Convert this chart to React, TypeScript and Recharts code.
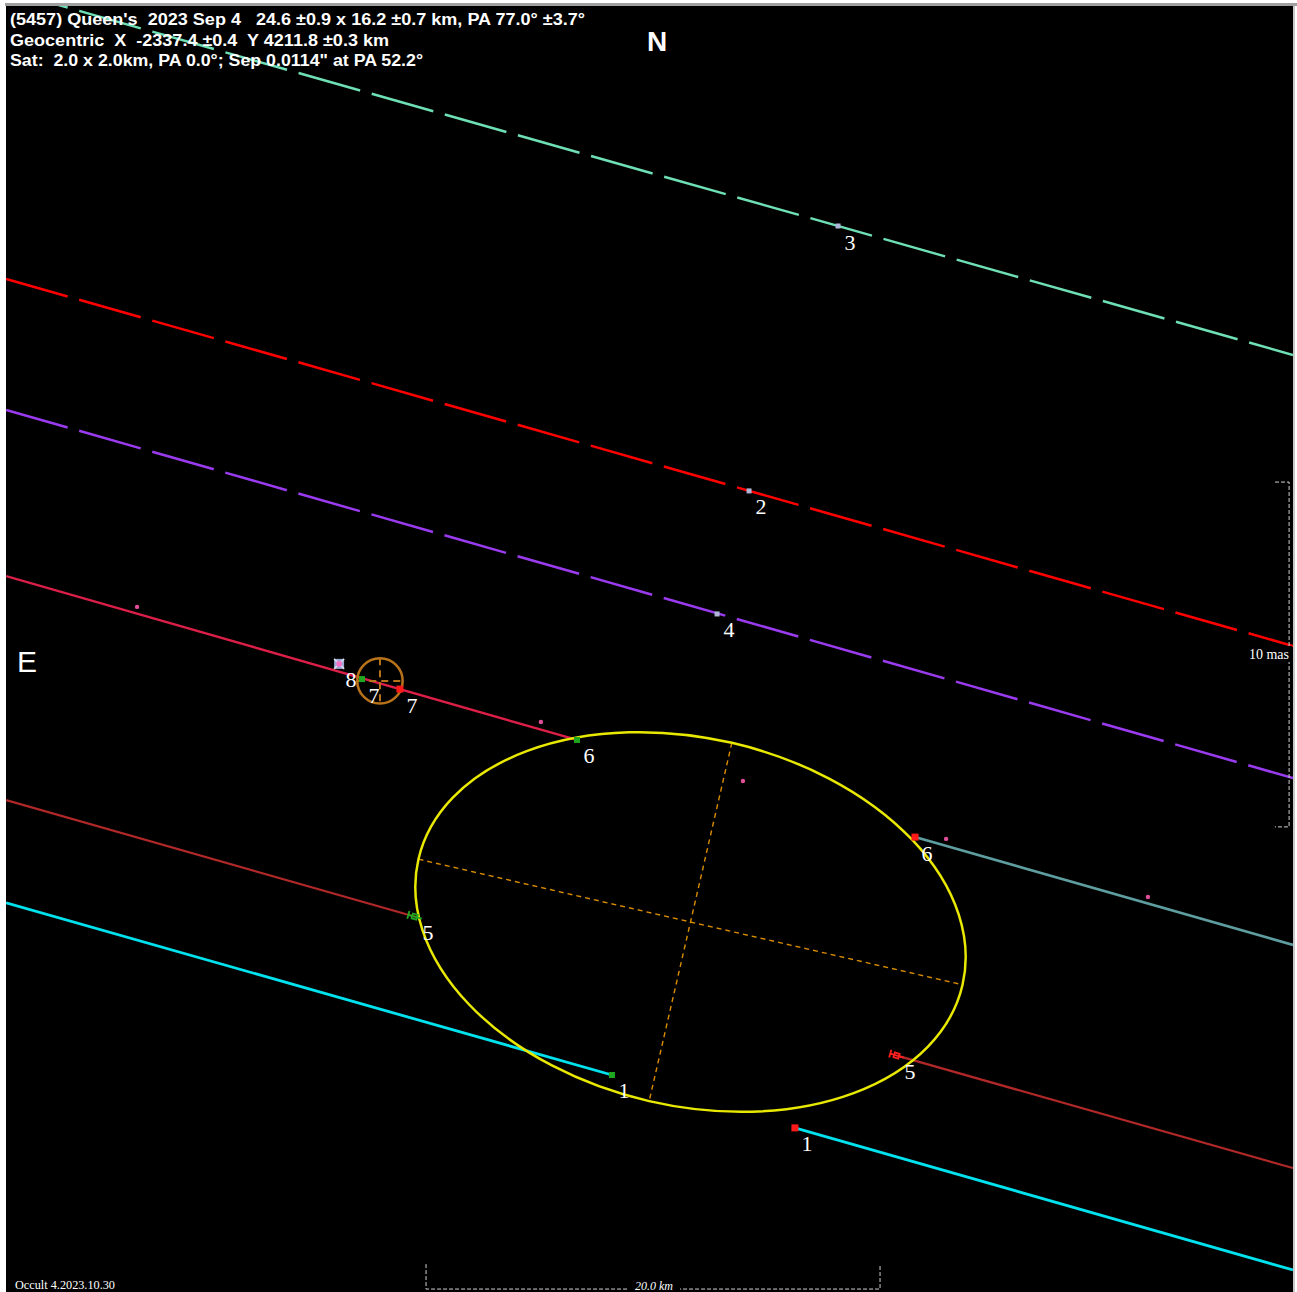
import React from 'react';
import { ComposedChart, Line, Scatter, XAxis, YAxis } from 'recharts';

// Plot frame in km (x toward W = right, y toward N = up), origin at fitted ellipse centre
const X_DOMAIN: [number, number] = [-30.154, 26.542];
const Y_DOMAIN: [number, number] = [-16.3, 40.352];
const CHART_W = 1287;
const CHART_H = 1286;
const PX_PER_KM = CHART_W / (X_DOMAIN[1] - X_DOMAIN[0]);

// Chord paths (km)
const chord3 = [{ x: -30.15, y: 41.05 }, { x: 26.54, y: 24.98 }];
const chord2 = [{ x: -30.15, y: 28.33 }, { x: 26.54, y: 12.16 }];
const chord4 = [{ x: -30.15, y: 22.56 }, { x: 26.54, y: 6.34 }];
const chord67Pre = [{ x: -30.15, y: 15.24 }, { x: -5.0, y: 8.02 }];
const chord6Post = [{ x: 9.89, y: 3.74 }, { x: 26.54, y: -1.01 }];
const chord5Pre = [{ x: -30.15, y: 5.37 }, { x: -12.09, y: 0.22 }];
const chord5Post = [{ x: 9.14, y: -5.9 }, { x: 26.54, y: -10.84 }];
const chord1Pre = [{ x: -30.15, y: 0.84 }, { x: -3.46, y: -6.74 }];
const chord1Post = [{ x: 4.6, y: -9.07 }, { x: 26.54, y: -15.33 }];

// Events on the chords
const eventMarks = [
  { x: 6.5, y: 30.66, label: '3', kind: 'miss' },
  { x: 2.58, y: 18.99, label: '2', kind: 'miss' },
  { x: 1.17, y: 13.57, label: '4', kind: 'miss' },
  { x: -15.48, y: 11.37, label: '8', kind: 'star' },
  { x: -14.47, y: 10.7, label: '7', kind: 'D' },
  { x: -12.8, y: 10.26, label: '7', kind: 'R' },
  { x: -5.0, y: 8.02, label: '6', kind: 'D' },
  { x: 9.89, y: 3.74, label: '6', kind: 'R' },
  { x: -12.09, y: 0.22, label: '5', kind: 'Dbar' },
  { x: 9.14, y: -5.9, label: '5', kind: 'Rbar' },
  { x: -3.46, y: -6.74, label: '1', kind: 'D' },
  { x: 4.6, y: -9.07, label: '1', kind: 'R' },
];

// Time marks along chord 6/7
const timeDots = [
  { x: -24.38, y: 13.88 },
  { x: -6.59, y: 8.81 },
  { x: 2.31, y: 6.21 },
  { x: 11.26, y: 3.66 },
  { x: 20.15, y: 1.1 },
];

// Fitted shape: 24.6 x 16.2 km, PA 77.0
const ellipseFit = [{ x: 0, y: 0, major: 24.6, minor: 16.2, pa: 77.0 }];
// Satellite: 2.0 x 2.0 km
const satellite = [{ x: -13.68, y: 10.62, diameter: 2.0 }];

// Scale bars
const kmScaleBar = [
  { x: -11.65, y: -15.07 },
  { x: -11.65, y: -16.17 },
  { x: 8.35, y: -16.17 },
  { x: 8.35, y: -15.07 },
];
const masScaleBar = [
  { x: 25.75, y: 19.38 },
  { x: 26.37, y: 19.38 },
  { x: 26.37, y: 4.19 },
  { x: 25.75, y: 4.19 },
];

const titleLines = [
  "(5457) Queen's  2023 Sep 4   24.6 \u00b10.9 x 16.2 \u00b10.7 km, PA 77.0\u00b0 \u00b13.7\u00b0",
  'Geocentric  X  -2337.4 \u00b10.4  Y 4211.8 \u00b10.3 km',
  'Sat:  2.0 x 2.0km, PA 0.0\u00b0; Sep 0.0114" at PA 52.2\u00b0',
];

const EventMark = (props: any) => {
  const { cx, cy, payload } = props;
  if (cx == null || cy == null) return <g />;
  const k = payload.kind;
  let mark: React.ReactNode = null;
  if (k === 'miss') {
    mark = <rect x={cx - 2.5} y={cy - 2.5} width={5} height={5} fill="#aeb6d8" />;
  } else if (k === 'star') {
    mark = (
      <g>
        <rect x={cx - 5} y={cy - 5} width={10} height={10} fill="#9ea8d4" />
        <line x1={cx - 5} y1={cy - 5} x2={cx + 5} y2={cy + 5} stroke="#d8dcf0" strokeWidth={1.5} />
        <line x1={cx + 5} y1={cy - 5} x2={cx - 5} y2={cy + 5} stroke="#d8dcf0" strokeWidth={1.5} />
        <rect x={cx - 2.5} y={cy - 2.5} width={5} height={5} fill="#ff6ec7" />
      </g>
    );
  } else if (k === 'D') {
    mark = <rect x={cx - 3} y={cy - 3} width={6} height={6} fill="#1fa81f" />;
  } else if (k === 'R') {
    mark = <rect x={cx - 3.5} y={cy - 3.5} width={7} height={7} fill="#ff1a1a" />;
  } else {
    const col = k === 'Dbar' ? '#22a822' : '#ff2020';
    mark = (
      <g transform={`rotate(16 ${cx} ${cy})`} stroke={col} strokeWidth={1.8} fill="none">
        <line x1={cx - 8} y1={cy} x2={cx + 6} y2={cy} />
        <line x1={cx - 8} y1={cy - 4} x2={cx - 8} y2={cy + 4} />
        <rect x={cx - 4} y={cy - 2.5} width={5} height={5} />
      </g>
    );
  }
  return (
    <g>
      {mark}
      <text
        x={cx + 12}
        y={cy + 16}
        fill="#ffffff"
        fontFamily="'Liberation Serif', 'Times New Roman', serif"
        fontSize={22}
        textAnchor="middle"
        dominantBaseline="central"
      >
        {payload.label}
      </text>
    </g>
  );
};

const EllipseShape = (props: any) => {
  const { cx, cy, payload } = props;
  if (cx == null || cy == null) return <g />;
  const rx = (payload.major / 2) * PX_PER_KM;
  const ry = (payload.minor / 2) * PX_PER_KM;
  const rot = 90 - payload.pa;
  return (
    <g transform={`rotate(${rot} ${cx} ${cy})`}>
      <line x1={cx - rx} y1={cy} x2={cx + rx} y2={cy} stroke="#d98c00" strokeWidth={1.4} strokeDasharray="5 4" />
      <line x1={cx} y1={cy - ry} x2={cx} y2={cy + ry} stroke="#d98c00" strokeWidth={1.4} strokeDasharray="5 4" />
      <ellipse cx={cx} cy={cy} rx={rx} ry={ry} fill="none" stroke="#e8e800" strokeWidth={2.5} />
    </g>
  );
};

const SatShape = (props: any) => {
  const { cx, cy, payload } = props;
  if (cx == null || cy == null) return <g />;
  const r = (payload.diameter / 2) * PX_PER_KM;
  return (
    <g stroke="#b8731a" fill="none">
      <circle cx={cx} cy={cy} r={r} strokeWidth={2.5} />
      <line x1={cx - r} y1={cy} x2={cx + r} y2={cy} strokeWidth={2} strokeDasharray="7 5" />
      <line x1={cx} y1={cy - r} x2={cx} y2={cy + r} strokeWidth={2} strokeDasharray="7 5" />
    </g>
  );
};

const DotShape = (props: any) => {
  const { cx, cy } = props;
  if (cx == null || cy == null) return <g />;
  return <circle cx={cx} cy={cy} r={2.2} fill="#e0509a" />;
};

const serif = "'Liberation Serif', 'Times New Roman', serif";
const sans = "'Liberation Sans', Arial, sans-serif";

export default function App() {
  const lineProps = { type: 'linear' as const, dataKey: 'y', dot: false, activeDot: false, isAnimationActive: false };
  return (
    <div style={{ position: 'absolute', left: 0, top: 0, width: 1297, height: 1292, background: '#ffffff', overflow: 'hidden' }}>
      <div style={{ position: 'absolute', left: 6, top: 6, width: CHART_W, height: CHART_H, background: '#000000' }}>
        <ComposedChart width={CHART_W} height={CHART_H} margin={{ top: 0, right: 0, bottom: 0, left: 0 }}>
          <XAxis type="number" dataKey="x" domain={X_DOMAIN} allowDataOverflow hide />
          <YAxis type="number" dataKey="y" domain={Y_DOMAIN} allowDataOverflow hide />
          <Line {...lineProps} data={chord3} stroke="#6fe0b6" strokeWidth={2.5} strokeDasharray="64 12" />
          <Line {...lineProps} data={chord2} stroke="#ff0000" strokeWidth={2.5} strokeDasharray="64 12" />
          <Line {...lineProps} data={chord4} stroke="#9b3bf0" strokeWidth={2.5} strokeDasharray="64 12" />
          <Line {...lineProps} data={chord67Pre} stroke="#dc1f48" strokeWidth={2.4} />
          <Line {...lineProps} data={chord6Post} stroke="#5f9ea0" strokeWidth={2.6} />
          <Line {...lineProps} data={chord5Pre} stroke="#b02828" strokeWidth={2.2} />
          <Line {...lineProps} data={chord5Post} stroke="#b02828" strokeWidth={2.2} />
          <Line {...lineProps} data={chord1Pre} stroke="#00e2ee" strokeWidth={2.8} />
          <Line {...lineProps} data={chord1Post} stroke="#00e2ee" strokeWidth={2.8} />
          <Line {...lineProps} data={kmScaleBar} stroke="#d0d0d0" strokeWidth={1} strokeDasharray="4 2" />
          <Line {...lineProps} data={masScaleBar} stroke="#d0d0d0" strokeWidth={1} strokeDasharray="4 2" />
          <Scatter data={ellipseFit} shape={EllipseShape} isAnimationActive={false} />
          <Scatter data={timeDots} shape={DotShape} isAnimationActive={false} />
          <Scatter data={satellite} shape={SatShape} isAnimationActive={false} />
          <Scatter data={eventMarks} shape={EventMark} isAnimationActive={false} />
        </ComposedChart>
      </div>
      <svg width={1297} height={1292} style={{ position: 'absolute', left: 0, top: 0, pointerEvents: 'none' }}>
        <rect x={5} y={3} width={1292} height={3} fill="#a0a0a0" />
        <rect x={1293} y={6} width={2} height={1286} fill="#c8c8c8" />
        {titleLines.map((t, i) => (
          <text
            key={i}
            x={10}
            y={25 + i * 20.5}
            fill="#ffffff"
            fontFamily={sans}
            fontWeight="bold"
            fontSize={16}
            textLength={[575, 379, 413][i]}
            lengthAdjust="spacingAndGlyphs"
            style={{ whiteSpace: 'pre' }}
          >
            {t}
          </text>
        ))}
        <text x={657} y={51} fill="#ffffff" fontFamily={sans} fontWeight="bold" fontSize={28} textAnchor="middle">N</text>
        <text x={27} y={672} fill="#ffffff" fontFamily={sans} fontSize={30} textAnchor="middle">E</text>
        <rect x={1246} y={646} width={46} height={16} fill="#000000" />
        <text x={1269} y={659} fill="#ffffff" fontFamily={serif} fontSize={14} textAnchor="middle">10 mas</text>
        <rect x={628} y={1280} width={52} height={12} fill="#000000" />
        <text x={654} y={1290} fill="#ffffff" fontFamily={serif} fontStyle="italic" fontSize={12} textAnchor="middle">20.0 km</text>
        <text x={15} y={1289} fill="#ffffff" fontFamily={serif} fontSize={12} textLength={100} lengthAdjust="spacingAndGlyphs">Occult 4.2023.10.30</text>
      </svg>
    </div>
  );
}
